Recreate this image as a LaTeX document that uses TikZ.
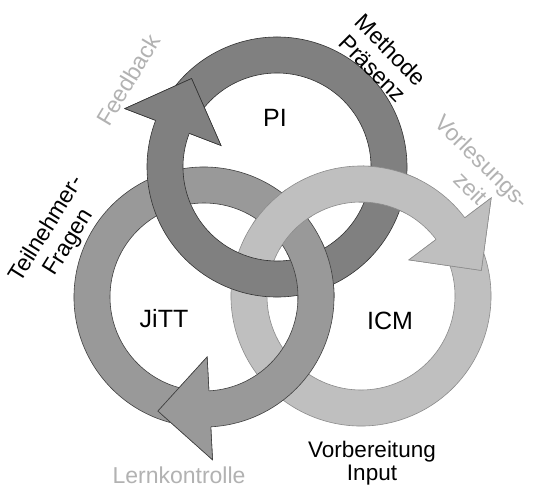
\documentclass[tikz,border=0pt]{standalone}
\usepackage{fontspec}
\setmainfont{Liberation Sans}
\usetikzlibrary{calc}
\definecolor{piFill}{gray}{0.50}
\definecolor{jiFill}{gray}{0.60}
\definecolor{icFill}{gray}{0.75}
\definecolor{piEdge}{gray}{0.20}
\definecolor{jiEdge}{gray}{0.25}
\definecolor{icEdge}{gray}{0.55}
\definecolor{labGray}{gray}{0.70}
\newcommand{\myRingArrow}[4]{%
  \pgfmathsetmacro{\myTa}{#2-14}%
  \pgfmathsetmacro{\myTe}{#2-360}%
  \pgfmathsetmacro{\myTp}{#2-25}%
  \filldraw[fill=#3, draw=#4, ringline]
    ($(#1)+(\myTa:130)$) arc[start angle=\myTa, end angle=\myTe, radius=130]
    -- ($(#1)+(#2:163)$) -- ($(#1)+(\myTp:123)$) -- ($(#1)+(#2:60)$)
    -- ($(#1)+(#2:94)$) arc[start angle=\myTe, end angle=\myTa, radius=94] -- cycle;
  \fill[#3] ($(#1)+(#2:163)$) -- ($(#1)+(\myTp:123)$) -- ($(#1)+(#2:60)$) -- cycle;
  \draw[#4, ringline] ($(#1)+(#2:130)$) -- ($(#1)+(#2:163)$) -- ($(#1)+(\myTp:123)$)
    -- ($(#1)+(#2:60)$) -- ($(#1)+(#2:94)$);
}
\begin{document}
\begin{tikzpicture}[x=1pt,y=1pt,
  ringline/.style={line width=0.6pt, line join=miter},
  lab/.style={font=\fontsize{23}{26}\selectfont, inner sep=0pt, align=center},
  graylab/.style={lab, text=labGray},
  biglab/.style={font=\fontsize{25}{28}\selectfont, inner sep=0pt}]
\useasboundingbox (0,0) rectangle (534,-487);
\fill[white] (0,0) rectangle (534,-487);
\coordinate (cPI) at (277,-167);
\coordinate (cJ) at (204,-297);
\coordinate (cI) at (361,-296);
\coordinate (xJP) at (313,-273);
\coordinate (xIP) at (387,-187);
\coordinate (xIJ) at (282.5,-219);
% base order
\myRingArrow{cI}{37}{icFill}{icEdge}
\myRingArrow{cJ}{-87}{jiFill}{jiEdge}
\myRingArrow{cPI}{159}{piFill}{piEdge}
% weaving fixes
\begin{scope}
  \clip (xJP) circle[radius=33];
  \myRingArrow{cJ}{-87}{jiFill}{jiEdge}
\end{scope}
\begin{scope}
  \clip (xIP) circle[radius=32];
  \myRingArrow{cI}{37}{icFill}{icEdge}
\end{scope}
\begin{scope}
  \clip (xIJ) circle[radius=30];
  \myRingArrow{cI}{37}{icFill}{icEdge}
\end{scope}
% labels
\node[biglab] (pi) at (275,-118) {PI};
\node[biglab] (jitt) at (164,-319) {JiTT};
\node[biglab] (icm) at (390,-321) {ICM};
\node[lab, anchor=north, font=\fontsize{22.5}{23}\selectfont] (vorb) at (372,-441) {Vorbereitung\\Input};
\node[graylab] (lern) at (179,-475) {Lernkontrolle};
\node[graylab, rotate=59] (feed) at (128,-80) {Feedback};
\node[lab, rotate=-45] (meth) at (382,-59) {Methode\\Präsenz};
\node[graylab, rotate=-45] (vorl) at (481,-163) {Vorlesungs-};
\node[graylab, rotate=-45] (zeit) at (471,-188) {zeit};
\node[lab, rotate=58] (teil) at (58,-236) {Teilnehmer-\\Fragen};
\end{tikzpicture}
\end{document}
